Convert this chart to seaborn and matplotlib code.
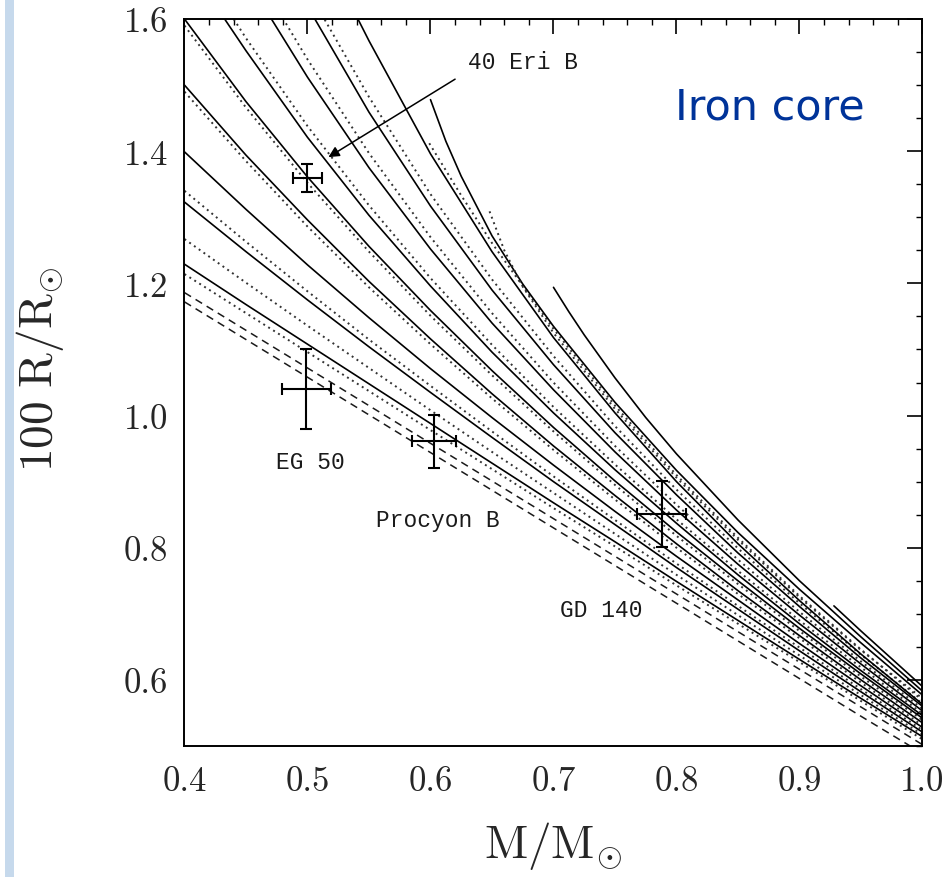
import matplotlib
matplotlib.use("Agg")
import matplotlib.pyplot as plt
from matplotlib.patches import Rectangle
from matplotlib.ticker import MultipleLocator
import seaborn as sns

# ---------------- data ----------------
GRID = [0.40, 0.45, 0.50, 0.55, 0.60, 0.65, 0.70, 0.75, 0.80, 0.85, 0.90, 0.95, 1.00]

# zero-temperature relations (dashed)
dash_low_m = [0.40, 0.45, 0.50, 0.55, 0.60, 0.65, 0.70, 0.75, 0.80, 0.85, 0.90, 0.95, 0.99]
dash_low_r = [1.172, 1.115, 1.058, 1.001, 0.944, 0.887, 0.830, 0.773, 0.716, 0.659, 0.602, 0.545, 0.500]
dash_high_r = [1.186, 1.129, 1.072, 1.015, 0.958, 0.901, 0.844, 0.787, 0.730, 0.673, 0.616, 0.559, 0.502]

# curves entering at the left edge (on GRID)
dot_a_r = [1.214, 1.155, 1.096, 1.037, 0.978, 0.919, 0.860, 0.802, 0.743, 0.685, 0.627, 0.568, 0.510]
solid_a_r = [1.229, 1.168, 1.108, 1.048, 0.988, 0.928, 0.868, 0.809, 0.749, 0.690, 0.631, 0.572, 0.514]
dot_b_r = [1.267, 1.201, 1.136, 1.072, 1.008, 0.945, 0.883, 0.821, 0.759, 0.698, 0.637, 0.577, 0.517]
solid_b_r = [1.323, 1.248, 1.175, 1.104, 1.035, 0.967, 0.900, 0.835, 0.770, 0.707, 0.644, 0.582, 0.521]
dot_c_r = [1.340, 1.263, 1.188, 1.115, 1.045, 0.976, 0.908, 0.842, 0.776, 0.712, 0.649, 0.586, 0.524]
solid_c_r = [1.399, 1.312, 1.228, 1.148, 1.071, 0.997, 0.925, 0.855, 0.787, 0.721, 0.655, 0.591, 0.528]
dot_d_r = [1.490, 1.385, 1.286, 1.194, 1.108, 1.026, 0.948, 0.873, 0.800, 0.730, 0.663, 0.596, 0.531]
solid_d_r = [1.500, 1.394, 1.296, 1.203, 1.116, 1.033, 0.954, 0.879, 0.806, 0.735, 0.667, 0.600, 0.535]
dot_e_r = [1.590, 1.466, 1.352, 1.248, 1.151, 1.061, 0.976, 0.895, 0.818, 0.745, 0.674, 0.605, 0.539]
solid_e_r = [1.600, 1.475, 1.361, 1.256, 1.159, 1.068, 0.982, 0.901, 0.824, 0.750, 0.678, 0.609, 0.542]

# curves entering at the top edge or starting inside the frame
solid_f_m = [0.433, 0.45, 0.50, 0.55, 0.60, 0.65, 0.70, 0.75, 0.80, 0.85, 0.90, 0.95, 1.00]
solid_f_r = [1.599, 1.552, 1.421, 1.303, 1.196, 1.096, 1.004, 0.918, 0.837, 0.759, 0.685, 0.614, 0.546]
dot_f_m = [0.440, 0.45, 0.50, 0.55, 0.60, 0.65, 0.70, 0.75, 0.80, 0.85, 0.90, 0.95, 1.00]
dot_f_r = [1.600, 1.571, 1.438, 1.318, 1.208, 1.107, 1.013, 0.926, 0.843, 0.765, 0.690, 0.619, 0.549]
solid_g_m = [0.471, 0.50, 0.55, 0.60, 0.65, 0.70, 0.75, 0.80, 0.85, 0.90, 0.95, 1.00]
solid_g_r = [1.599, 1.512, 1.375, 1.252, 1.140, 1.039, 0.945, 0.857, 0.775, 0.698, 0.624, 0.553]
dot_g_m = [0.480, 0.50, 0.55, 0.60, 0.65, 0.70, 0.75, 0.80, 0.85, 0.90, 0.95, 1.00]
dot_g_r = [1.601, 1.539, 1.397, 1.270, 1.155, 1.050, 0.954, 0.865, 0.782, 0.703, 0.628, 0.556]
solid_h_m = [0.506, 0.55, 0.60, 0.65, 0.70, 0.75, 0.80, 0.85, 0.90, 0.95, 1.00]
solid_h_r = [1.600, 1.459, 1.317, 1.190, 1.077, 0.974, 0.880, 0.792, 0.711, 0.633, 0.560]
dot_h_m = [0.514, 0.55, 0.60, 0.65, 0.70, 0.75, 0.80, 0.85, 0.90, 0.95, 1.00]
dot_h_r = [1.599, 1.482, 1.335, 1.206, 1.090, 0.984, 0.888, 0.799, 0.716, 0.638, 0.564]
solid_i_m = [0.541, 0.55, 0.60, 0.65, 0.70, 0.75, 0.80, 0.85, 0.90, 0.95, 1.00]
solid_i_r = [1.600, 1.567, 1.396, 1.248, 1.118, 1.004, 0.900, 0.806, 0.720, 0.639, 0.563]
dot_i_m = [0.599, 0.625, 0.65, 0.70, 0.75, 0.80, 0.85, 0.90, 0.95, 1.00]
dot_i_r = [1.412, 1.333, 1.261, 1.131, 1.015, 0.910, 0.815, 0.727, 0.646, 0.569]
solid_j_m = [0.600, 0.6125, 0.625, 0.65, 0.675, 0.70, 0.75, 0.80, 0.85, 0.90, 0.95, 1.00]
solid_j_r = [1.478, 1.415, 1.362, 1.272, 1.199, 1.135, 1.020, 0.917, 0.823, 0.737, 0.656, 0.577]
dot_j_m = [0.648, 0.66, 0.675, 0.70, 0.75, 0.80, 0.85, 0.90, 0.95, 1.00]
dot_j_r = [1.309, 1.250, 1.195, 1.125, 1.010, 0.906, 0.812, 0.725, 0.645, 0.572]
solid_k_m = [0.700, 0.7125, 0.725, 0.75, 0.775, 0.80, 0.85, 0.90, 0.95, 1.00]
solid_k_r = [1.194, 1.157, 1.122, 1.057, 0.997, 0.942, 0.842, 0.750, 0.665, 0.583]
solid_l_m = [0.928, 0.95, 0.975, 1.00]
solid_l_r = [0.712, 0.674, 0.632, 0.590]

# observed white dwarfs
star_names = ["40 Eri B", "EG 50", "Procyon B", "GD 140"]
star_m = [0.500, 0.499, 0.603, 0.788]
star_r = [1.360, 1.040, 0.961, 0.851]
star_m_err = [0.0115, 0.020, 0.018, 0.020]
star_r_err = [0.021, 0.060, 0.040, 0.050]
label_m = [0.675, 0.502, 0.606, 0.739]
label_r = [1.536, 0.931, 0.842, 0.707]
arrow_from = (0.620, 1.509)
arrow_to = (0.517, 1.391)

X_TICKS = [0.4, 0.5, 0.6, 0.7, 0.8, 0.9, 1.0]
Y_TICKS = [0.6, 0.8, 1.0, 1.2, 1.4, 1.6]

# ---------------- styling ----------------
sns.set_style("white")
plt.rcParams["font.family"] = ["cmr10", "DejaVu Serif"]
plt.rcParams["mathtext.fontset"] = "cm"
plt.rcParams["axes.formatter.use_mathtext"] = True

fig = plt.figure(figsize=(9.52, 8.78), dpi=100)
fig.patches.append(Rectangle((0.005, 0.0), 0.0095, 1.0, transform=fig.transFigure,
                             facecolor="#c6d9ec", edgecolor="none", zorder=0))
ax = fig.add_axes([0.1938, 0.1492, 0.7752, 0.8280])

solid_kw = dict(color="black", linewidth=1.2, linestyle="-")
dot_kw = dict(color="#333333", linewidth=1.4, linestyle=(0, (1, 2)))
dash_kw = dict(color="#1a1a1a", linewidth=1.1, linestyle=(0, (5, 3.5)))

curves = [
    (dash_low_m, dash_low_r, dash_kw), (GRID, dash_high_r, dash_kw),
    (GRID, dot_a_r, dot_kw), (GRID, solid_a_r, solid_kw),
    (GRID, dot_b_r, dot_kw), (GRID, solid_b_r, solid_kw),
    (GRID, dot_c_r, dot_kw), (GRID, solid_c_r, solid_kw),
    (GRID, dot_d_r, dot_kw), (GRID, solid_d_r, solid_kw),
    (GRID, dot_e_r, dot_kw), (GRID, solid_e_r, solid_kw),
    (solid_f_m, solid_f_r, solid_kw), (dot_f_m, dot_f_r, dot_kw),
    (solid_g_m, solid_g_r, solid_kw), (dot_g_m, dot_g_r, dot_kw),
    (solid_h_m, solid_h_r, solid_kw), (dot_h_m, dot_h_r, dot_kw),
    (solid_i_m, solid_i_r, solid_kw), (dot_i_m, dot_i_r, dot_kw),
    (solid_j_m, solid_j_r, solid_kw), (dot_j_m, dot_j_r, dot_kw),
    (solid_k_m, solid_k_r, solid_kw), (solid_l_m, solid_l_r, solid_kw),
]
for m, r, kw in curves:
    sns.lineplot(x=m, y=r, ax=ax, sort=False, estimator=None, **kw)

ax.errorbar(star_m, star_r, xerr=star_m_err, yerr=star_r_err, fmt="none",
            ecolor="black", elinewidth=1.5, capsize=4.5, capthick=1.5, zorder=5)

for name, lm, lr in zip(star_names, label_m, label_r):
    ax.text(lm, lr, name, ha="center", va="center", fontsize=16.5,
            family=["Liberation Mono", "DejaVu Sans Mono"], color="#1a1a1a")

ax.annotate("", xy=arrow_to, xytext=arrow_from,
            arrowprops=dict(arrowstyle="-|>", color="black", lw=1.1,
                            mutation_scale=16, shrinkA=0, shrinkB=0))

ax.text(0.876, 1.467, "Iron core", ha="center", va="center", fontsize=31,
        color="#003399", family=["DejaVu Sans"])

ax.set_xlim(0.4, 1.0)
ax.set_ylim(0.5, 1.6)
ax.set_xticks(X_TICKS)
ax.set_yticks(Y_TICKS)
ax.set_xticklabels([f"{v:.1f}" for v in X_TICKS])
ax.set_yticklabels([f"{v:.1f}" for v in Y_TICKS])
ax.xaxis.set_minor_locator(MultipleLocator(0.02))
ax.yaxis.set_minor_locator(MultipleLocator(0.05))
ax.tick_params(which="both", direction="in", top=True, right=True, color="black")
ax.tick_params(which="major", length=11, width=1.2, labelsize=25)
ax.tick_params(axis="x", which="major", pad=14)
ax.tick_params(axis="y", which="major", pad=12)
ax.tick_params(which="minor", length=4.5, width=1.0)
for s in ax.spines.values():
    s.set_linewidth(1.4)
    s.set_color("black")

ax.set_xlabel(r"$\mathrm{M/M}_{\odot}$", fontsize=34)
ax.set_ylabel(r"$100\ \mathrm{R/R}_{\odot}$", fontsize=34)
ax.xaxis.set_label_coords(0.5, -0.1)
ax.yaxis.set_label_coords(-0.16, 0.52)

fig.savefig("out.png", dpi=100)
